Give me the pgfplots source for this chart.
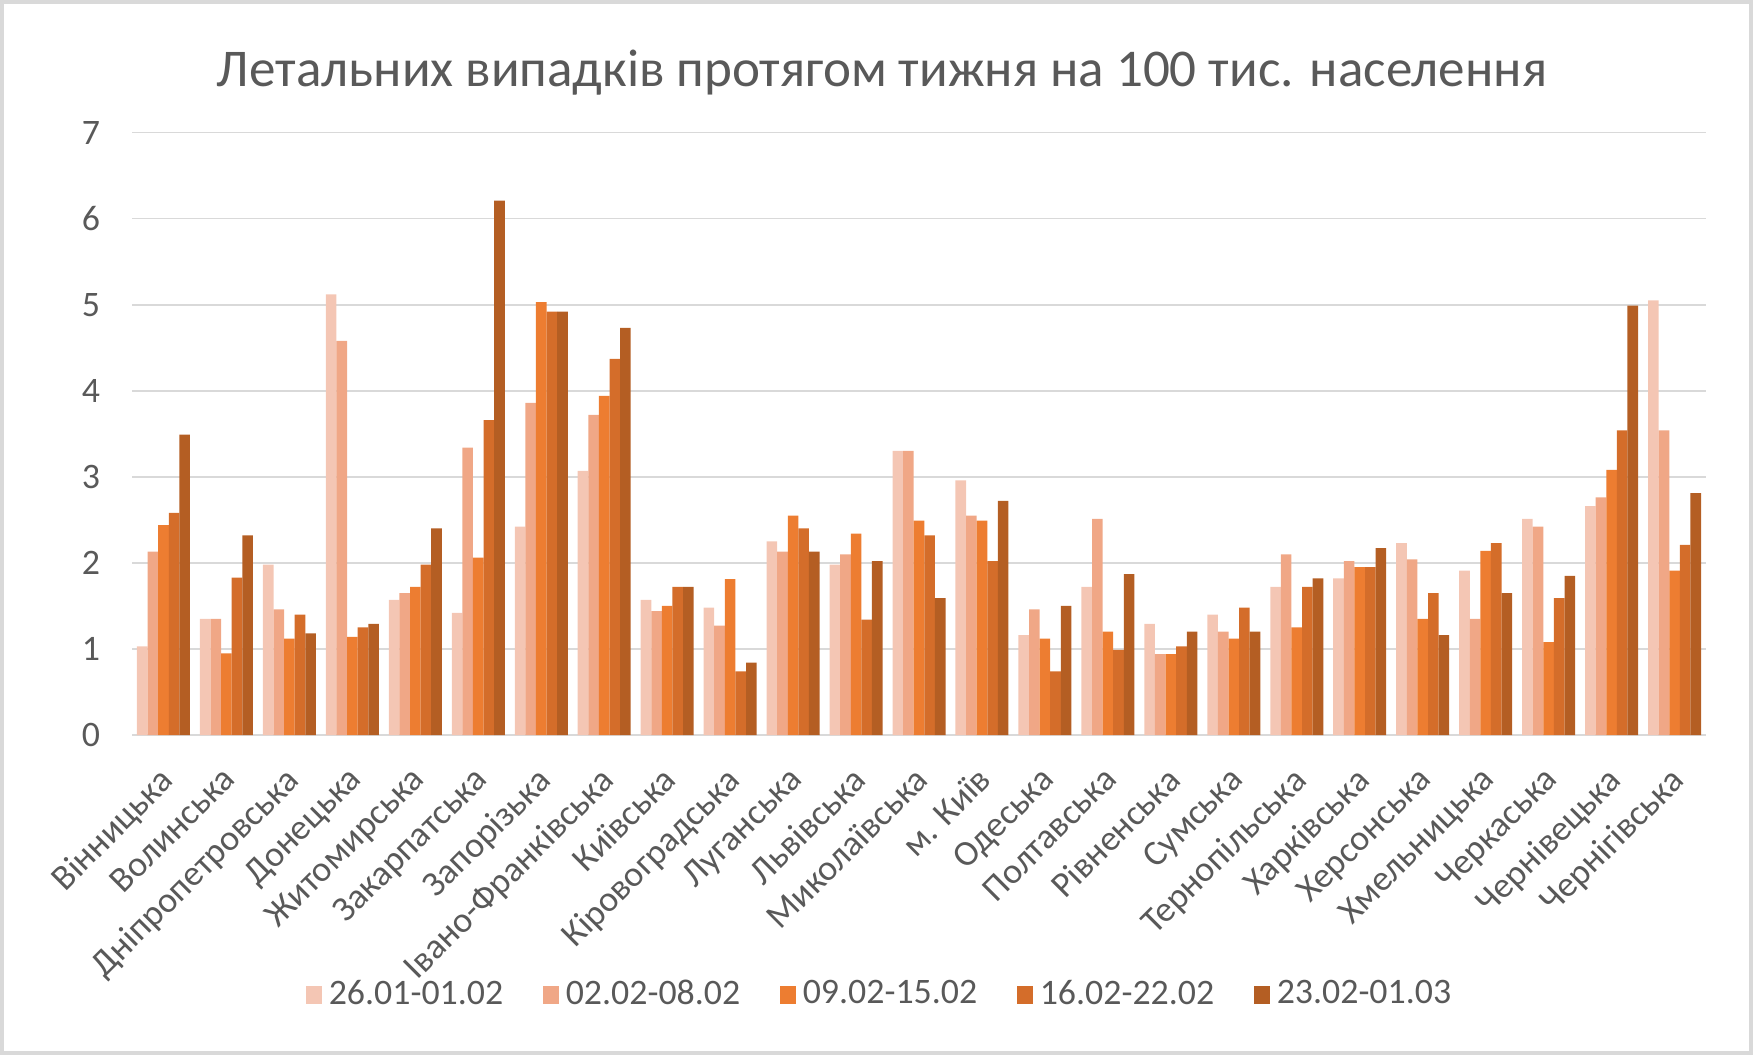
\documentclass[border=0pt]{standalone}
\usepackage{pgfplots}
\pgfplotsset{compat=1.18}
\usepackage{pgfplotstable}
\usepackage{fontspec}
\setmainfont{Carlito}
\definecolor{txt}{HTML}{595959}
\definecolor{gridc}{HTML}{D9D9D9}
\definecolor{cA}{HTML}{F4C6B4}
\definecolor{cB}{HTML}{F0A786}
\definecolor{cC}{HTML}{ED7D31}
\definecolor{cD}{HTML}{D46D2A}
\definecolor{cE}{HTML}{B45E23}
\pgfplotstableread{
x a b c d e
0 1.03 2.13 2.44 2.58 3.49
1 1.35 1.35 0.95 1.83 2.32
2 1.98 1.46 1.12 1.40 1.18
3 5.12 4.58 1.14 1.25 1.29
4 1.57 1.65 1.72 1.98 2.40
5 1.42 3.34 2.06 3.66 6.21
6 2.42 3.86 5.03 4.92 4.92
7 3.07 3.72 3.94 4.37 4.73
8 1.57 1.44 1.50 1.72 1.72
9 1.48 1.27 1.81 0.74 0.84
10 2.25 2.13 2.55 2.40 2.13
11 1.98 2.10 2.34 1.34 2.02
12 3.30 3.30 2.49 2.32 1.59
13 2.96 2.55 2.49 2.02 2.72
14 1.16 1.46 1.12 0.74 1.50
15 1.72 2.51 1.20 0.99 1.87
16 1.29 0.94 0.94 1.03 1.20
17 1.40 1.20 1.12 1.48 1.20
18 1.72 2.10 1.25 1.72 1.82
19 1.82 2.02 1.95 1.95 2.17
20 2.23 2.04 1.35 1.65 1.16
21 1.91 1.35 2.14 2.23 1.65
22 2.51 2.42 1.08 1.59 1.85
23 2.66 2.76 3.08 3.54 4.99
24 5.05 3.54 1.91 2.21 2.81
}\datatable
\begin{document}
\begin{tikzpicture}
\path[use as bounding box] (0,0) rectangle (175.3mm,105.5mm);
\draw[gridc, line width=0.45mm] (0.2mm,0.2mm) rectangle (175.1mm,105.3mm);
\node[txt, font=\fontsize{15.1}{18}\selectfont] at (88.2mm,98.2mm) {Летальних випадків протягом тижня на 100 тис. населення};
\begin{axis}[
  at={(13.2mm,32.0mm)}, anchor=south west,
  scale only axis, width=157.4mm, height=60.25mm,
  xmin=-0.5, xmax=24.5, ymin=0, ymax=7,
  ybar=0pt, bar width=1.06mm,
  axis line style={draw=none},
  tick style={draw=none},
  ymajorgrids, grid style={gridc, line width=0.5pt},
  ytick={0,1,...,7},
  xtick={0,...,24},
  xticklabels={Вінницька,Волинська,Дніпропетровська,Донецька,Житомирська,Закарпатська,Запорізька,Івано-Франківська,Київська,Кіровоградська,Луганська,Львівська,Миколаївська,м. Київ,Одеська,Полтавська,Рівненська,Сумська,Тернопільська,Харківська,Херсонська,Хмельницька,Черкаська,Чернівецька,Чернігівська},
  /pgf/number format/assume math mode=true,
  ticklabel style={font=\fontsize{10.2}{12}\selectfont, text=txt},
  yticklabel style={xshift=-1.95mm},
  xticklabel style={rotate=45, anchor=north east, inner sep=0pt, xshift=-1.42mm, yshift=-0.58mm},
  legend columns=5,
  legend style={at={(0.4765,-0.4315)}, anchor=center, draw=none, fill=none,
    font=\fontsize{10.2}{12}\selectfont, text=txt,
    /tikz/every even column/.append style={column sep=3.25mm}},
  legend image code/.code={\fill[#1] (0mm,-0.9mm) rectangle (1.6mm,0.9mm);},
]
\addplot[fill=cA, draw=none] table[x=x,y=a]{\datatable};
\addplot[fill=cB, draw=none] table[x=x,y=b]{\datatable};
\addplot[fill=cC, draw=none] table[x=x,y=c]{\datatable};
\addplot[fill=cD, draw=none] table[x=x,y=d]{\datatable};
\addplot[fill=cE, draw=none] table[x=x,y=e]{\datatable};
\legend{26.01-01.02,02.02-08.02,09.02-15.02,16.02-22.02,23.02-01.03}
\end{axis}
\end{tikzpicture}
\end{document}
